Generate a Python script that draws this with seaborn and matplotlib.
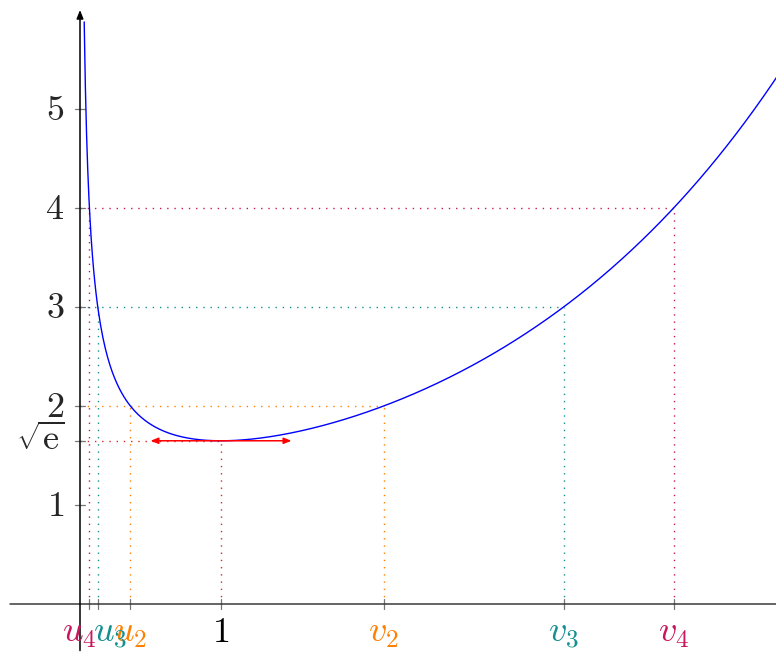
import numpy as np
import pandas as pd
import matplotlib
matplotlib.use("Agg")
import matplotlib.pyplot as plt
import seaborn as sns

# ---- data ----
levels = [2, 3, 4]                      # horizontal levels k
u_vals = [0.3575, 0.126, 0.0668]        # left solutions u_k
v_vals = [2.153, 3.43, 4.21]            # right solutions v_k
u_labels = [r"$u_2$", r"$u_3$", r"$u_4$"]
v_labels = [r"$v_2$", r"$v_3$", r"$v_4$"]
y_ticks = [1, 2, 3, 4, 5]
y_tick_labels = [r"$1$", r"$2$", r"$3$", r"$4$", r"$5$"]
x_min_value = 1.0
min_value = np.sqrt(np.e)
arrow_span = [0.5, 1.5]
x_start, x_end = 0.0298, 5.0

# curve f(x) = e^{x/2} / sqrt(x)
x_curve = np.linspace(x_start, x_end, 600)
curve = pd.DataFrame({"x": x_curve, "y": np.exp(x_curve / 2) / np.sqrt(x_curve)})

level_colors = ["#ff8000", "#139090", "#c8175d"]
u_label_shift = [0, 9, -7.5]   # points, label nudges to limit overlap
min_color = "#d42a2a"

sns.set_style("white")
plt.rcParams["mathtext.fontset"] = "cm"
plt.rcParams["font.family"] = ["DejaVu Serif"]

fig = plt.figure(figsize=(7.76, 6.52), dpi=100)
ax = fig.add_axes([0, 0, 1, 1])
ax.set_xlim(-80 / 141, 696 / 141)
ax.set_ylim(-48 / 99, 604 / 99)
ax.axis("off")

dot = dict(lw=1.0, linestyle=(0, (1, 4.2)))

# dotted guides
for k, u, v, c in zip(levels, u_vals, v_vals, level_colors):
    ax.plot([0, v], [k, k], color=c, **dot)
    ax.plot([u, u], [0, k], color=c, **dot)
    ax.plot([v, v], [0, k], color=c, **dot)
ax.plot([0, x_min_value], [min_value, min_value], color=min_color, **dot)
ax.plot([x_min_value, x_min_value], [0, min_value], color=min_color, **dot)

# axes
axc = "#3a3a3a"
ax.plot([-0.5, 5.2], [0, 0], color=axc, lw=1.1, zorder=3)
ax.annotate("", xy=(0, 6.0), xytext=(0, -0.47),
            arrowprops=dict(arrowstyle="-|>,head_length=0.5,head_width=0.2",
                            color="black", lw=1.1, shrinkA=0, shrinkB=0), zorder=3)

# curve
sns.lineplot(data=curve, x="x", y="y", color="#0000ff", lw=1.0, ax=ax,
             sort=False, estimator=None, zorder=4)

# red double arrow at minimum
ax.annotate("", xy=(arrow_span[0], min_value), xytext=(arrow_span[1], min_value),
            arrowprops=dict(arrowstyle="<|-|>,head_length=0.45,head_width=0.18",
                            color="#ff0000", lw=1.1, shrinkA=0, shrinkB=0), zorder=5)

# y ticks & labels
tk = "#777777"
fs = 26
for t, lab in zip(y_ticks, y_tick_labels):
    ax.plot([-0.035, 0.035], [t, t], color=tk, lw=0.9, zorder=2)
    ax.text(-0.11, t - 0.107, lab, ha="right", va="baseline", fontsize=fs)
ax.plot([-0.035, 0.035], [min_value, min_value], color=tk, lw=0.9, zorder=2)
ax.text(-0.11, min_value - 0.093, r"$\sqrt{\mathrm{e}}$", ha="right", va="baseline", fontsize=fs)

# x ticks & labels
xs = [x_min_value] + u_vals + v_vals
labs = [r"$1$"] + u_labels + v_labels
cols = ["black"] + level_colors + level_colors
shifts = [0] + u_label_shift + [0, 0, 0]
for x, lab, c, s in zip(xs, labs, cols, shifts):
    ax.plot([x, x], [-0.05, 0.05], color=tk, lw=0.9, zorder=2)
    ax.annotate(lab, xy=(x, -0.384), xytext=(s, 0), textcoords="offset points",
                ha="center", va="baseline", fontsize=fs, color=c)

fig.savefig("out.png", dpi=100)
